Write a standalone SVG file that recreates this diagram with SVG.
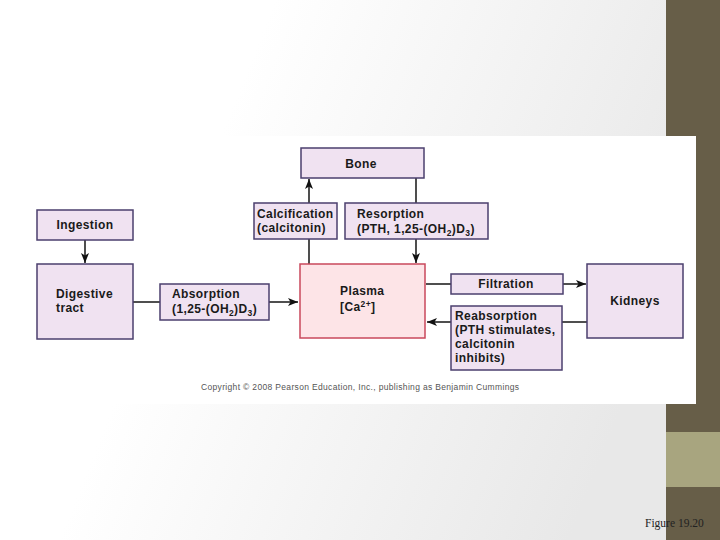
<svg xmlns="http://www.w3.org/2000/svg" width="720" height="540" viewBox="0 0 720 540">
<defs>
<linearGradient id="bg" x1="0" y1="0" x2="1" y2="0.3">
<stop offset="0.35" stop-color="#ffffff"/>
<stop offset="1" stop-color="#e8e8e8"/>
</linearGradient>
<marker id="ah" viewBox="0 0 10 8" refX="10" refY="4" markerWidth="10" markerHeight="8" markerUnits="userSpaceOnUse" orient="auto">
<path d="M0,0 L10,4 L0,8 L2.5,4 Z" fill="#111"/>
</marker>
<style>
.box{fill:#f0e2f1;stroke:#4b3f6e;stroke-width:1.5}
.pl{fill:#fde4e7;stroke:#c9485c;stroke-width:1.5}
.t{font-family:"Liberation Sans",Arial,sans-serif;font-weight:bold;font-size:12px;fill:#1a1a1a;letter-spacing:0.4px}
.c{text-anchor:middle}
.ln{stroke:#222;stroke-width:1.6;fill:none}
.ar{stroke:#222;stroke-width:1.6;fill:none;marker-end:url(#ah)}
</style>
</defs>
<rect x="0" y="0" width="720" height="540" fill="url(#bg)"/>
<rect x="666" y="0" width="54" height="540" fill="#675e48"/>
<rect x="666" y="432" width="54" height="55" fill="#a8a57f"/>
<rect x="0" y="136" width="696" height="268" fill="#ffffff"/>

<g id="connectors">
<line class="ar" x1="85" y1="240" x2="85" y2="263"/>
<line class="ln" x1="133" y1="302" x2="160" y2="302"/>
<line class="ar" x1="269" y1="302" x2="298" y2="302"/>
<line class="ln" x1="309" y1="264" x2="309" y2="239"/>
<line class="ar" x1="309" y1="203" x2="309" y2="179"/>
<line class="ln" x1="416" y1="178" x2="416" y2="203"/>
<line class="ar" x1="416" y1="239" x2="416" y2="263"/>
<line class="ln" x1="426" y1="284" x2="451" y2="284"/>
<line class="ar" x1="563" y1="284" x2="586" y2="284"/>
<line class="ln" x1="587" y1="322" x2="562" y2="322"/>
<line class="ar" x1="451" y1="322" x2="427" y2="322"/>
</g>

<g id="bone"><rect class="box" x="301" y="148" width="123" height="30"/><text class="t c" x="361" y="168">Bone</text></g>
<g id="calcification"><rect class="box" x="254" y="203" width="83" height="36"/><text class="t" x="257" y="218">Calcification</text><text class="t" x="257" y="232">(calcitonin)</text></g>
<g id="resorption"><rect class="box" x="345" y="203" width="143" height="36"/><text class="t" x="357" y="218">Resorption</text><text class="t" x="357" y="233">(PTH, 1,25-(OH<tspan font-size="8.5" dy="3">2</tspan><tspan dy="-3">)D</tspan><tspan font-size="8.5" dy="3">3</tspan><tspan dy="-3">)</tspan></text></g>
<g id="ingestion"><rect class="box" x="37" y="210" width="96" height="30"/><text class="t c" x="85" y="229">Ingestion</text></g>
<g id="digestive"><rect class="box" x="37" y="264" width="96" height="75"/><text class="t" x="56" y="298">Digestive</text><text class="t" x="56" y="312">tract</text></g>
<g id="absorption"><rect class="box" x="160" y="284" width="109" height="36"/><text class="t" x="172" y="298">Absorption</text><text class="t" x="172" y="313">(1,25-(OH<tspan font-size="8.5" dy="3">2</tspan><tspan dy="-3">)D</tspan><tspan font-size="8.5" dy="3">3</tspan><tspan dy="-3">)</tspan></text></g>
<g id="plasma"><rect class="pl" x="300" y="264" width="125" height="74"/><text class="t" x="340" y="295">Plasma</text><text class="t" x="340" y="311">[Ca<tspan font-size="8.5" dy="-4">2+</tspan><tspan dy="4">]</tspan></text></g>
<g id="filtration"><rect class="box" x="451" y="274" width="112" height="20"/><text class="t c" x="506" y="288">Filtration</text></g>
<g id="reabsorption"><rect class="box" x="451" y="306" width="111" height="64"/><text class="t" x="455" y="320">Reabsorption</text><text class="t" x="455" y="334">(PTH stimulates,</text><text class="t" x="455" y="348">calcitonin</text><text class="t" x="455" y="362">inhibits)</text></g>
<g id="kidneys"><rect class="box" x="587" y="264" width="96" height="74"/><text class="t c" x="635" y="305">Kidneys</text></g>

<text x="201" y="390" font-family="Liberation Sans, Arial, sans-serif" font-size="8.5" fill="#555" textLength="318">Copyright © 2008 Pearson Education, Inc., publishing as Benjamin Cummings</text>
<text x="645" y="527" font-family="Liberation Serif, Times New Roman, serif" font-size="11.5" fill="#222">Figure 19.20</text>
</svg>
